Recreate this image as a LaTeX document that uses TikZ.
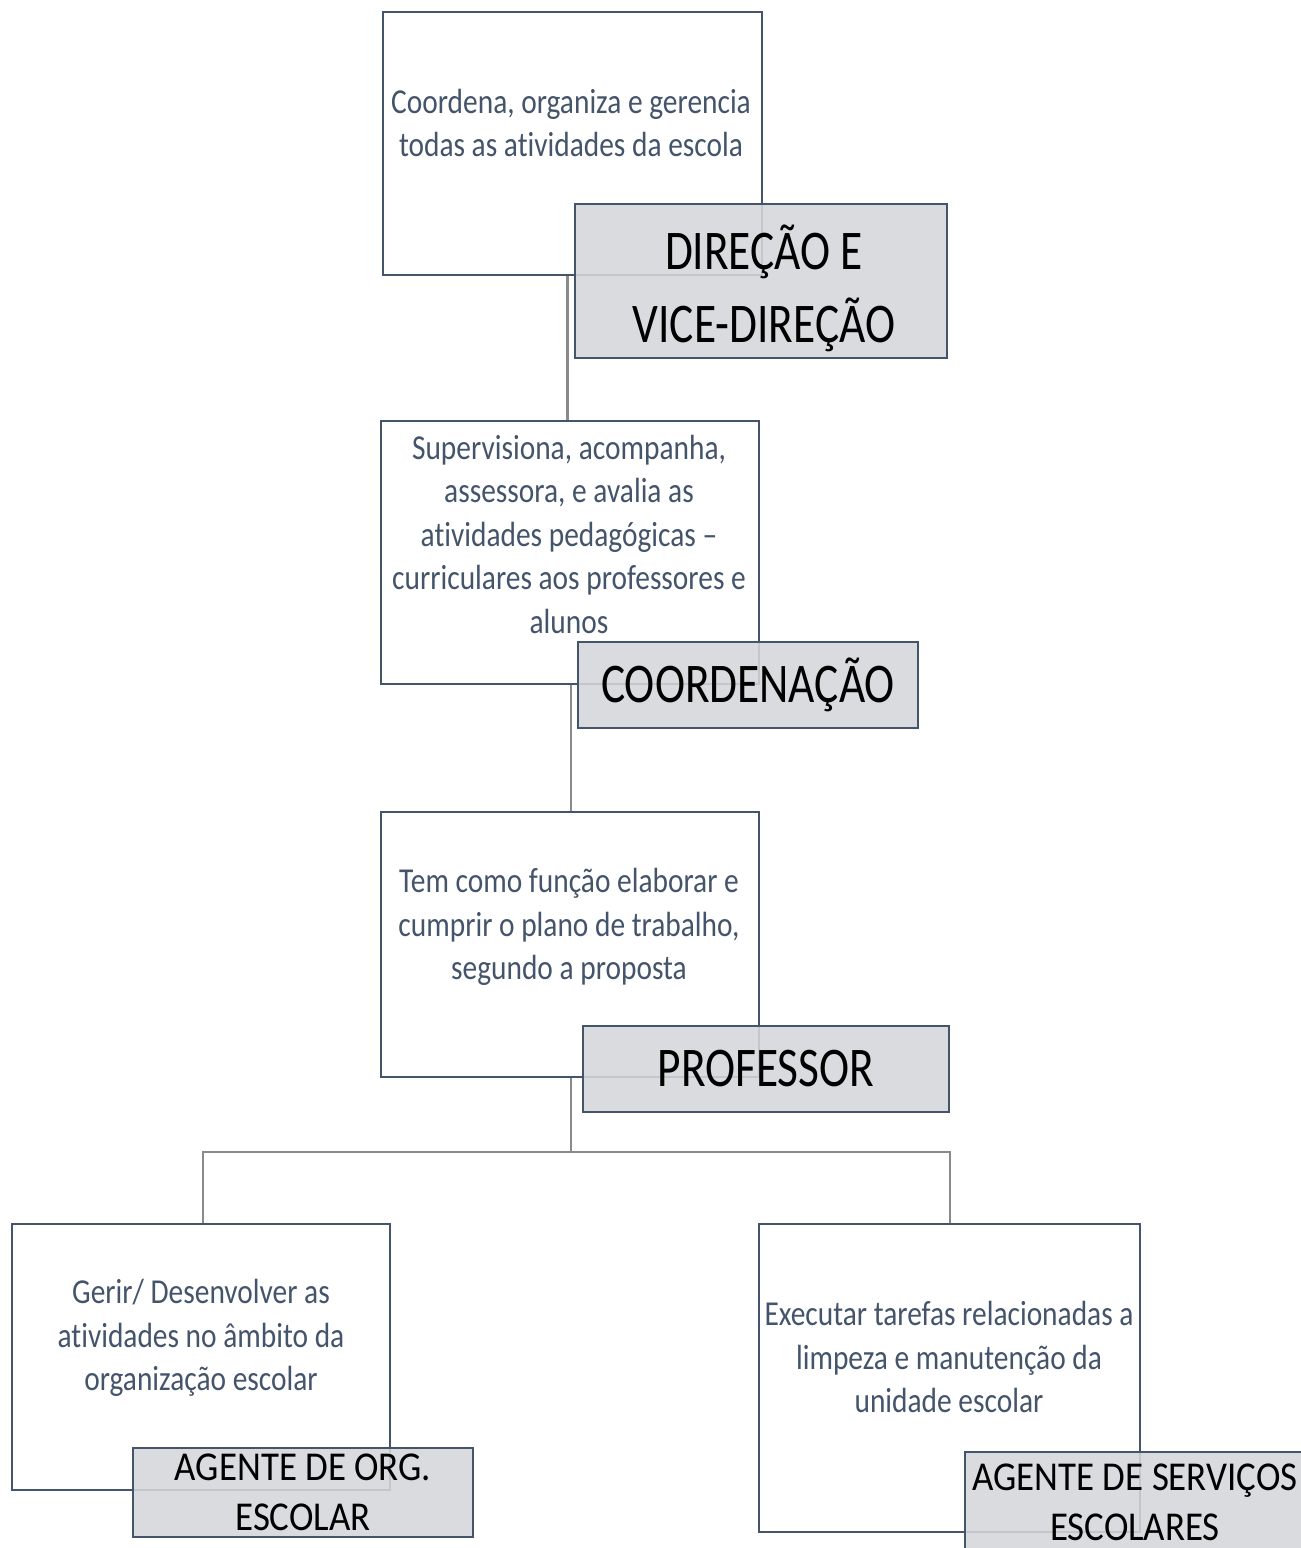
\documentclass[tikz,border=0pt]{standalone}
\usepackage{fontspec}
\setmainfont{Carlito}
\newfontfamily\narrowfont[FakeStretch=0.84, Ligatures=NoCommon]{Carlito}
\newfontfamily\labelfont[FakeStretch=0.81, Ligatures=NoCommon]{Carlito}
\newfontfamily\smalllabelfont[FakeStretch=0.90, Ligatures=NoCommon]{Carlito}
\definecolor{boxborder}{HTML}{44546A}
\definecolor{desctext}{HTML}{44546A}
\definecolor{labelfill}{HTML}{D5D7DA}
\definecolor{connline}{HTML}{8A8A8A}
\tikzset{
  x=1pt, y=-1pt,
  whitebox/.style={draw=boxborder, line width=2.4pt, fill=white, inner sep=0pt},
  labelbox/.style={draw=boxborder, line width=2.4pt, fill=labelfill, fill opacity=0.88, text opacity=1, inner sep=0pt, text=black, align=center},
  desc/.style={text=desctext, align=center, inner sep=0pt, font=\narrowfont\fontsize{35}{43.5}\selectfont},
  biglabel/.style={font=\labelfont\fontsize{56}{73}\selectfont},
  midlabel/.style={font=\labelfont\fontsize{56}{60}\selectfont},
  smalllabel/.style={font=\smalllabelfont\fontsize{41}{50}\selectfont},
  conn/.style={draw=connline, line width=2.2pt}
}
\begin{document}
\begin{tikzpicture}
\clip (0,0) rectangle (1301,1548);
\fill[white] (0,0) rectangle (1301,1548);

% white boxes
\node[whitebox, minimum width=379pt, minimum height=263pt] (box1) at (572.5,143.5) {};
\node[whitebox, minimum width=378pt, minimum height=263pt] (box2) at (570,552.5) {};
\node[whitebox, minimum width=378pt, minimum height=265pt] (box3) at (570,944.5) {};
\node[whitebox, minimum width=378pt, minimum height=266pt] (box4) at (201,1357) {};
\node[whitebox, minimum width=381pt, minimum height=308pt] (box5) at (949.5,1378) {};

% connectors
\coordinate (j) at (571,1152);
\draw[conn] ([xshift=-5pt]box1.south) -- ([xshift=-5pt]box1.south |- box2.north);
\draw[conn] ([xshift=1pt]box2.south) -- ([xshift=1pt]box2.south |- box3.north);
\draw[conn] ([xshift=1pt]box3.south) -- (j);
\draw[conn] (j) -| ([xshift=2pt]box4.north);
\draw[conn] (j) -| ([xshift=0.5pt]box5.north);

% descriptions
\node[desc] (d1) at (571,123) {Coordena, organiza e gerencia\\todas as atividades da escola};
\node[desc] (d2) at (569,534) {Supervisiona, acompanha,\\assessora, e avalia as\\atividades pedagógicas –\\curriculares aos professores e\\alunos};
\node[desc] (d3) at (569,927) {Tem como função elaborar e\\cumprir o plano de trabalho,\\segundo a proposta};
\node[desc] (d4) at (201,1338) {Gerir/ Desenvolver as\\atividades no âmbito da\\organização escolar};
\node[desc] (d5) at (949,1357) {Executar tarefas relacionadas a\\limpeza e manutenção da\\unidade escolar};

% label boxes
\node[labelbox, minimum width=372pt, minimum height=154pt] (l1) at (761,281) {};
\node[biglabel, align=center, inner sep=0pt] (l1t) at (764,288) {DIREÇÃO E\\VICE-DIREÇÃO};
\node[labelbox, midlabel, minimum width=340pt, minimum height=86pt] (l2) at (748,685) {COORDENAÇÃO};
\node[labelbox, midlabel, minimum width=366pt, minimum height=86pt] (l3) at (766,1069) {PROFESSOR};
\node[labelbox, smalllabel, minimum width=340pt, minimum height=89pt] (l4) at (303,1492.5) {AGENTE DE ORG.\\ESCOLAR};
\node[labelbox, smalllabel, minimum width=340pt, minimum height=100pt] (l5) at (1135,1502) {AGENTE DE SERVIÇOS\\ESCOLARES};
\end{tikzpicture}
\end{document}
